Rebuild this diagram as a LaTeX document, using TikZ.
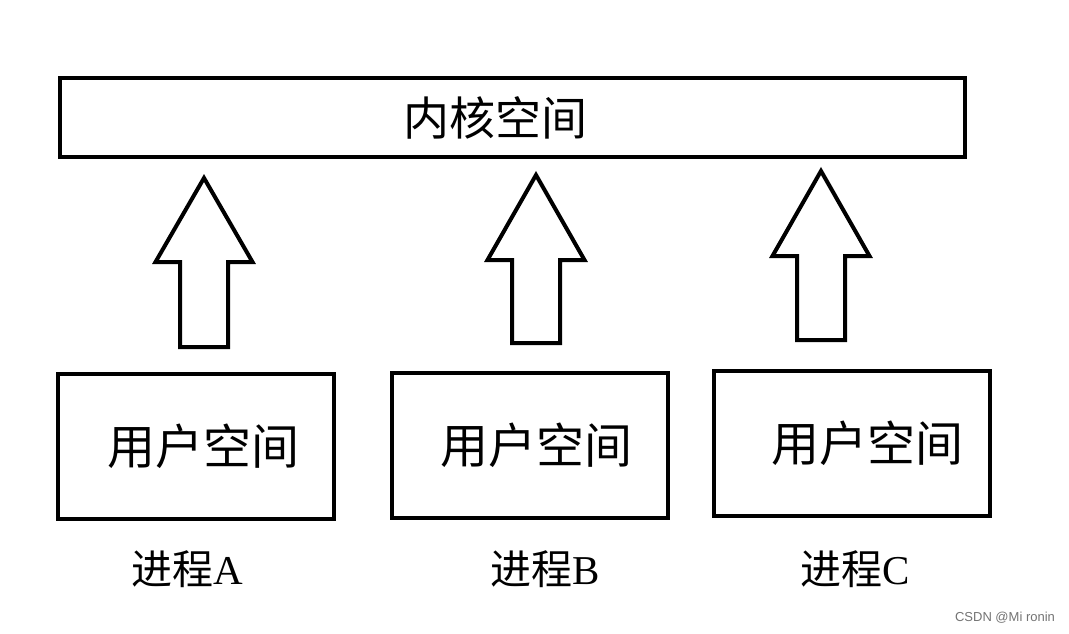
\documentclass[tikz,border=0pt]{standalone}
\usepackage{fontspec}
\setmainfont{Liberation Serif}
\newfontfamily\cjk{Noto Sans CJK SC}
\newfontfamily\wmfont{Liberation Sans}
\usetikzlibrary{positioning}

% hollow up arrow: centre x, tip y, head base y, shaft bottom y
\newcommand{\uparrowshape}[4]{%
  \draw[blockarrow] (#1,#2) -- (#1+48.5,#3) -- (#1+24,#3) -- (#1+24,#4)
    -- (#1-24,#4) -- (#1-24,#3) -- (#1-48.5,#3) -- cycle;}

\begin{document}
\begin{tikzpicture}[
  x=1pt,y=-1pt,
  box/.style={draw,line width=4pt,inner sep=0pt,
              font=\cjk\fontsize{46}{50}\selectfont},
  userbox/.style={box,minimum width=276pt,minimum height=145pt,
              font=\cjk\fontsize{48}{52}\selectfont},
  proc/.style={font=\fontsize{41}{45}\selectfont},
  blockarrow/.style={line width=4pt,line join=miter}
]
\useasboundingbox (0,0) rectangle (1069,633);

\node[box,minimum width=905pt,minimum height=79pt] (kernel) at (512.5,117.5)
  {内核空间\hspace*{34pt}};

\node[userbox] (usera) at (196,446.5) {\hspace*{14pt}用户空间};
\node[userbox] (userb) at (529.5,445.5) {\hspace*{14pt}用户空间};
\node[userbox] (userc) at (851.5,443.5) {\hspace*{32pt}用户空间};

\uparrowshape{204}{178}{262}{347}
\uparrowshape{536}{175}{260}{343}
\uparrowshape{821}{171}{256}{340}

\node[proc] (proca) at (187,569) {{\cjk 进程}A};
\node[proc] (procb) at (545,569) {{\cjk 进程}B};
\node[proc] (procc) at (855,569) {{\cjk 进程}C};

\node[font=\wmfont\fontsize{13}{14}\selectfont,text=black!55] (mark) at (1005,618)
  {CSDN @Mi ronin};
\end{tikzpicture}
\end{document}
